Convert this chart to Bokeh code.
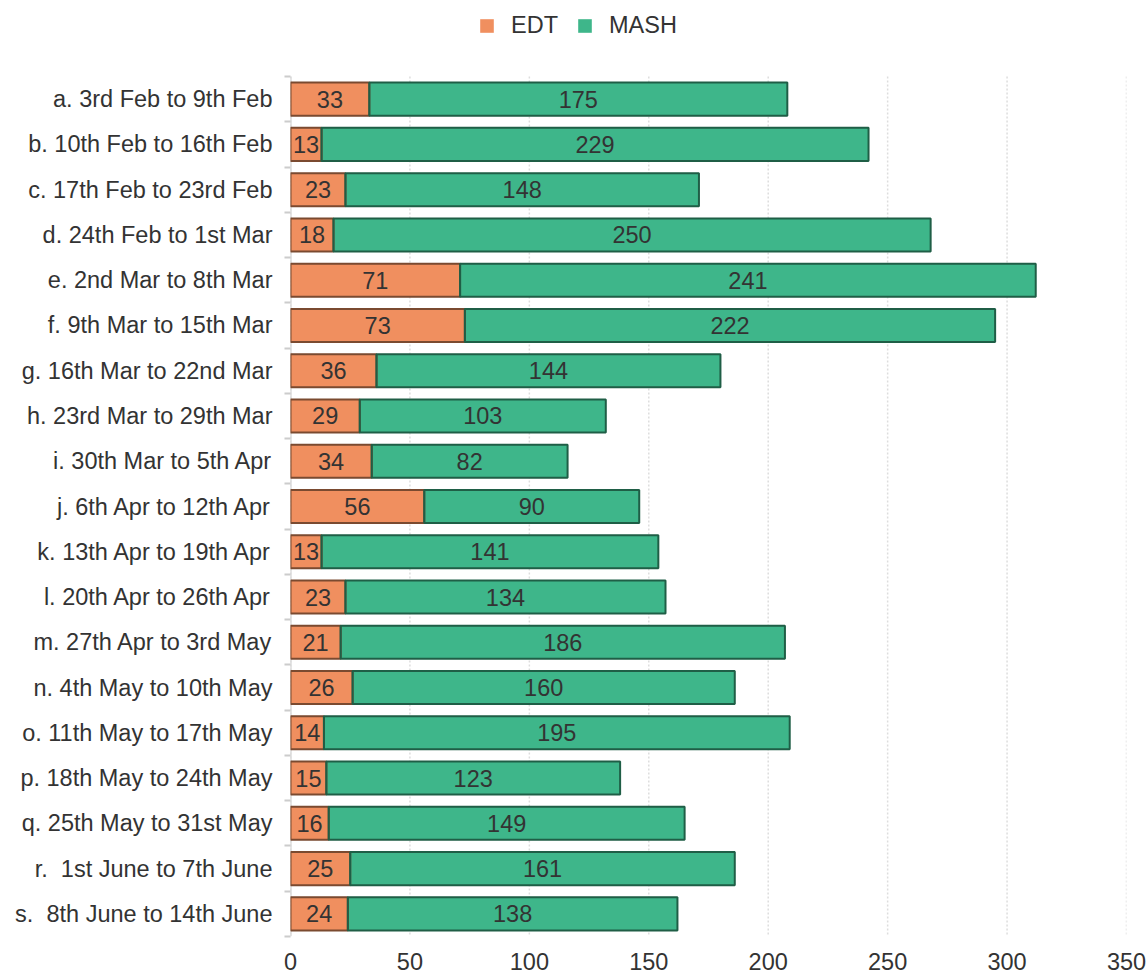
from bokeh.plotting import figure
from bokeh.models import Range1d, FixedTicker, Legend, LegendItem, ColumnDataSource
from bokeh.core.properties import value
from bokeh.embed import file_html
from bokeh.resources import INLINE

categories = [
    "a. 3rd Feb to 9th Feb", "b. 10th Feb to 16th Feb", "c. 17th Feb to 23rd Feb",
    "d. 24th Feb to 1st Mar", "e. 2nd Mar to 8th Mar", "f. 9th Mar to 15th Mar",
    "g. 16th Mar to 22nd Mar", "h. 23rd Mar to 29th Mar", "i. 30th Mar to 5th Apr",
    "j. 6th Apr to 12th Apr", "k. 13th Apr to 19th Apr", "l. 20th Apr to 26th Apr",
    "m. 27th Apr to 3rd May", "n. 4th May to 10th May", "o. 11th May to 17th May",
    "p. 18th May to 24th May", "q. 25th May to 31st May", "r.  1st June to 7th June",
    "s.  8th June to 14th June",
]
edt = [33, 13, 23, 18, 71, 73, 36, 29, 34, 56, 13, 23, 21, 26, 14, 15, 16, 25, 24]
mash = [175, 229, 148, 250, 241, 222, 144, 103, 82, 90, 141, 134, 186, 160, 195, 123, 149, 161, 138]
x_ticks = [0, 50, 100, 150, 200, 250, 300, 350]

EDT_FILL = "#F08F5F"
EDT_LINE = "#7A4A30"
MASH_FILL = "#3EB68A"
MASH_LINE = "#1F5E46"
FONT = "Liberation Sans"
TXT = "#333333"
FS = "23.5px"

# layout (pixels)
W, H = 1148, 975
LEFT, RIGHT, BOTTOM = 290, 22, 39
BAND_TOP = 76            # where the category band starts
n = len(categories)
band_px = (H - BOTTOM - BAND_TOP) / n
top_pad = BAND_TOP / band_px

ypos = [i + 0.5 for i in range(n)]
src = ColumnDataSource(dict(
    y=ypos, edt=edt, mash=mash,
    total=[a + b for a, b in zip(edt, mash)],
    edt_mid=[a / 2 for a in edt],
    mash_mid=[a + b / 2 for a, b in zip(edt, mash)],
    edt_lbl=[str(v) for v in edt], mash_lbl=[str(v) for v in mash],
))

p = figure(width=W, height=H, output_backend="svg", toolbar_location=None,
           x_range=Range1d(0, 350), y_range=Range1d(n, -top_pad),
           min_border_left=LEFT, min_border_right=RIGHT, min_border_top=0,
           min_border_bottom=BOTTOM)
p.outline_line_color = None

# dotted vertical grid lines, limited to the category band
p.segment(x0=x_ticks, x1=x_ticks, y0=[0] * len(x_ticks), y1=[n] * len(x_ticks),
          line_color="#DDDDDD", line_dash="2 2", line_width=1.5)
# y axis line (limited to the category band)
p.segment(x0=[0], x1=[0], y0=[0], y1=[n], line_color="#CCCCCC", line_width=2)

# fills (used for legend) and outlines drawn separately
r_edt = p.hbar(y="y", left=0, right="edt", height=0.73, source=src,
               fill_color=EDT_FILL, line_color=None)
r_mash = p.hbar(y="y", left="edt", right="total", height=0.73, source=src,
                fill_color=MASH_FILL, line_color=None)
p.hbar(y="y", left=0, right="edt", height=0.73, source=src,
       fill_color=None, line_color=EDT_LINE, line_width=2)
p.hbar(y="y", left="edt", right="total", height=0.73, source=src,
       fill_color=None, line_color=MASH_LINE, line_width=2)

p.text(x="edt_mid", y="y", text="edt_lbl", source=src, text_align="center",
       text_baseline="middle", text_font=value(FONT), text_font_size=FS, text_color=TXT)
p.text(x="mash_mid", y="y", text="mash_lbl", source=src, text_align="center",
       text_baseline="middle", text_font=value(FONT), text_font_size=FS, text_color=TXT)

frame_h = H - BOTTOM
legend = Legend(items=[LegendItem(label="EDT", renderers=[r_edt]),
                       LegendItem(label="MASH", renderers=[r_mash])],
                orientation="horizontal", location=(188, frame_h - 39),
                label_text_font=FONT, label_text_font_size=FS, label_text_color=TXT,
                glyph_width=17, glyph_height=17, spacing=18, label_standoff=16,
                border_line_color=None, background_fill_alpha=0, padding=2, margin=0)
p.add_layout(legend)

# x axis
p.xaxis.ticker = FixedTicker(ticks=x_ticks)
p.xaxis.axis_line_color = None
p.xaxis.major_tick_line_color = None
p.xaxis.minor_tick_line_color = None
p.xaxis.major_label_text_font = FONT
p.xaxis.major_label_text_font_size = FS
p.xaxis.major_label_text_color = TXT
p.xaxis.major_label_standoff = 10

# y axis
p.yaxis.ticker = FixedTicker(ticks=ypos, minor_ticks=list(range(n + 1)))
p.yaxis.major_label_overrides = {y: c.replace("  ", "\u00a0 ") for y, c in zip(ypos, categories)}
p.yaxis.axis_line_color = None
p.yaxis.major_tick_line_color = None
p.yaxis.major_tick_out = 0
p.yaxis.major_tick_in = 0
p.yaxis.minor_tick_line_color = "#CCCCCC"
p.yaxis.minor_tick_line_width = 2
p.yaxis.minor_tick_out = 6
p.yaxis.minor_tick_in = 0
p.yaxis.major_label_text_font = FONT
p.yaxis.major_label_text_font_size = FS
p.yaxis.major_label_text_color = TXT
p.yaxis.major_label_standoff = 12

p.xgrid.grid_line_color = None
p.ygrid.grid_line_color = None

open("out.html", "w").write(file_html(p, INLINE))
